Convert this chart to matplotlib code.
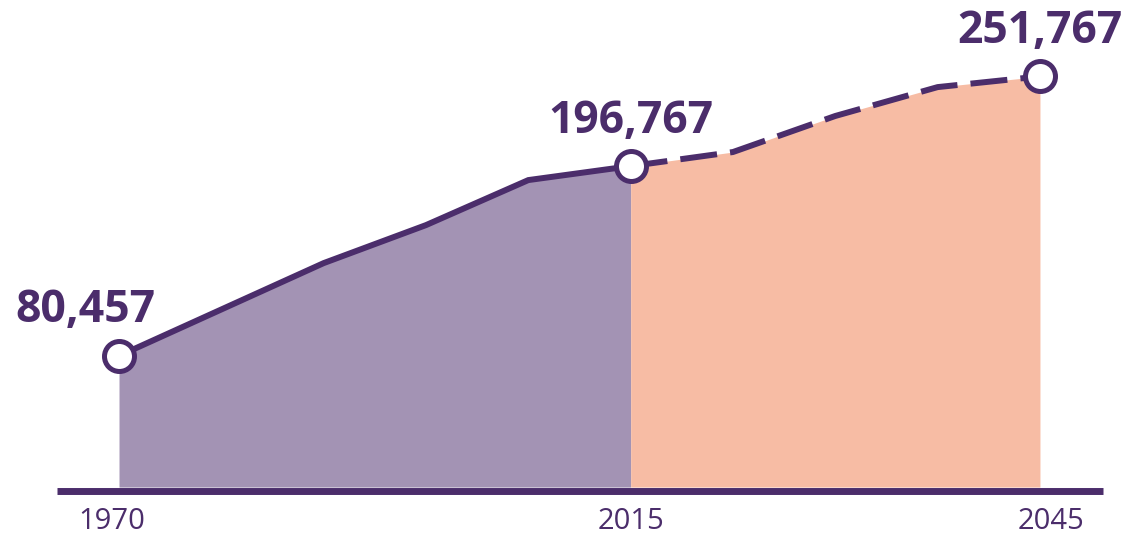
import numpy as np
import matplotlib
matplotlib.use('Agg')
import matplotlib.pyplot as plt
from matplotlib.transforms import offset_copy

################## Donnees #################
annees = [1970, 1990, 2000, 2010, 2015, 2020, 2030, 2040, 2045]
# positions sur l'axe (le graphique d'origine n'est pas lineaire en annees)
pos = [0, 2, 3, 4, 5, 6, 7, 8, 9]
valeurs = [80457, 137300, 160600, 188200, 196767, 205400, 227500, 245200, 251767]
idx_2015 = 4

etiquettes_annees = ['1970', '2015', '2045']
pos_etiquettes = [0, 5, 9]
etiquettes_valeurs = ['80,457', '196,767', '251,767']
idx_valeurs = [0, 4, 8]

violet = '#4B2D6B'
violet_clair = '#A393B4'
saumon = '#F7BCA4'

plt.rcParams['font.family'] = ['Open Sans', 'DejaVu Sans']

fig = plt.figure(figsize=(11.3, 5.36), dpi=100)
ax = fig.add_axes([0, 0, 1, 1])
ax.set_xlim(-1.163, 9.88)
ax.set_ylim(-30000, 298600)
ax.axis('off')

x = np.array(pos, dtype=float)
y = np.array(valeurs, dtype=float)
k = idx_2015

# surfaces
ax.fill_between(x[:k+1], 0, y[:k+1], color=violet_clair, lw=0, zorder=1)
ax.fill_between(x[k:], 0, y[k:], color=saumon, lw=0, zorder=1)

# ligne historique puis projection en pointilles
ax.plot(x[:k+1], y[:k+1], color=violet, lw=4.3, solid_joinstyle='miter', zorder=3)
ax.plot(x[k:], y[k:], color=violet, lw=4.3, linestyle=(0, (6.2, 2.2)), zorder=3)

# axe du bas
tr = offset_copy(ax.transData, fig=fig, x=0, y=-2.5, units='points')
ax.plot([-0.606, 9.616], [0, 0], color=violet, lw=5, solid_capstyle='butt',
        transform=tr, zorder=4)

# cercles
for i in idx_valeurs:
    ax.plot(x[i], y[i], marker='o', ms=21.6, mew=3.6, mec=violet, mfc='white', zorder=5)

# valeurs
decal_x = [-24, 0, 0]
for lab, i, dx in zip(etiquettes_valeurs, idx_valeurs, decal_x):
    ax.annotate(lab, xy=(x[i], y[i]), xytext=(dx, 24), textcoords='offset points',
                ha='center', va='baseline', fontsize=32, fontweight='bold', color=violet)

# annees
decal_annees = [-5, 0, 8]
for lab, p, dx in zip(etiquettes_annees, pos_etiquettes, decal_annees):
    ax.annotate(lab, xy=(p, 0), xytext=(dx, -30.5), textcoords='offset points',
                ha='center', va='baseline', fontsize=21, color=violet)

plt.savefig('out.png', dpi=100)
